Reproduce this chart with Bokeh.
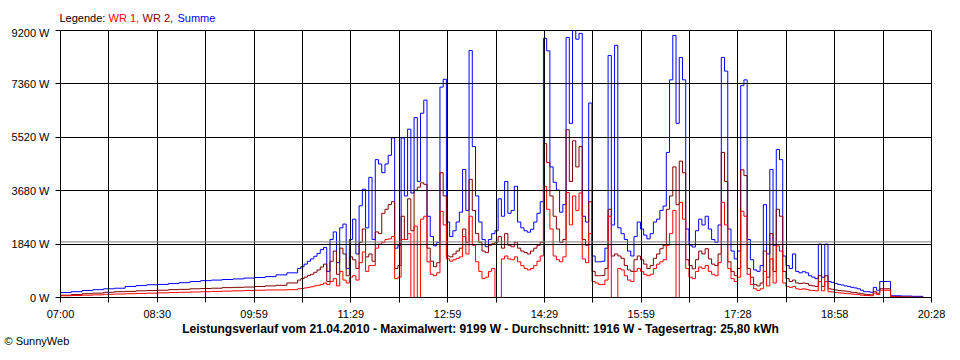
import numpy as np
from bokeh.plotting import figure
from bokeh.layouts import column
from bokeh.models import Range1d, FixedTicker, Span, ColumnDataSource
from bokeh.core.properties import value
from bokeh.embed import file_html
from bokeh.resources import INLINE

# ---------------- data (minutes after 07:00, watts) ----------------
DAY_SPAN_MIN = 808          # 07:00 .. 20:28
X_LABELS = ["07:00", "08:30", "09:59", "11:29", "12:59",
            "14:29", "15:59", "17:28", "18:58", "20:28"]
Y_TICKS = [0, 1840, 3680, 5520, 7360, 9200]
AVERAGE_W = 1916
SERIES_NAMES = ["WR 1,", "WR 2,", "Summe"]
SERIES_COLORS = ["#FF0000", "#800000", "#0000FF"]
FOOTER_TEXT = ("Leistungsverlauf vom 21.04.2010 - Maximalwert: 9199 W - "
               "Durchschnitt: 1916 W - Tagesertrag: 25,80 kWh")
COPYRIGHT = "\u00a9 SunnyWeb"

# morning samples every 10 min, 07:00 .. 10:30
morning_sum = [170, 200, 240, 270, 300, 320, 380, 410, 440, 450, 480,
               510, 550, 580, 600, 620, 640, 670, 690, 720, 780, 850]
morning_wr2 = [80, 100, 130, 150, 180, 200, 210, 230, 240, 250, 270,
               280, 300, 310, 320, 340, 350, 360, 380, 400, 420, 500]
morning_wr1 = [60, 70, 80, 90, 110, 120, 130, 140, 150, 160, 170,
               180, 190, 200, 210, 220, 230, 240, 250, 260, 260, 270]

# day samples every 3 min, 10:40 .. 19:40
day_sum = [
    1000, 1060, 1150, 1250, 1330, 1420, 1520, 1650, 1720, 900,
    2000, 2260, 1200, 2400, 2530, 1000, 2000, 2700, 1500, 3160,
    3730, 2400, 4140, 2000, 4750, 4600, 4300, 4600, 4900, 5500,
    1700, 1800, 5500, 3500, 5800, 3600, 6200, 4000, 6350, 6800,
    2800, 2100, 1780, 1900, 7250, 7520, 2600, 2100, 2300, 2600,
    2940, 4410, 3000, 8510, 5200, 3500, 2600, 2000, 1750, 2000,
    2200, 2300, 3400, 2800, 4000, 2900, 3000, 3830, 2600, 2400,
    2300, 2250, 2350, 2600, 2900, 3300, 8930, 8500, 4500, 3970,
    3700, 2940, 3200, 8960, 6000, 9200, 8900, 9100, 2800, 2600,
    6700, 1430, 1230, 1230, 1250, 1700, 8340, 2500, 8690, 2400,
    2200, 2000, 1600, 1430, 2100, 2600, 2360, 2150, 2020, 2200,
    2600, 2700, 3000, 3150, 5000, 7500, 9030, 6000, 8270, 7500,
    2360, 1800, 1740, 2300, 2700, 2500, 2800, 2360, 2000, 1900,
    2500, 8270, 7800, 2360, 1600, 1330, 1600, 7300, 7500, 2000,
    1300, 950, 900, 1100, 3200, 1500, 4410, 1800, 5100, 4750,
    1430, 1100, 1000, 1500, 900, 850, 890, 850, 750, 700,
    650, 1840, 700, 1840, 550, 520, 480, 450, 430, 400,
    380, 350, 330, 300, 250, 200, 200, 180, 350, 250,
    550]
day_wr2 = [
    600, 650, 700, 760, 800, 870, 950, 1050, 1150, 550,
    1250, 1600, 800, 1700, 1500, 750, 1400, 1300, 1000, 1900,
    2360, 1400, 1500, 1250, 2260, 2200, 2900, 3040, 3200, 3300,
    1000, 1100, 2800, 2000, 3400, 2300, 3700, 3800, 3950, 3900,
    1700, 1250, 1060, 1200, 4300, 3500, 1430, 1400, 1500, 1600,
    1700, 2360, 1900, 4070, 3000, 2200, 1900, 1600, 1550, 1800,
    1850, 1900, 2100, 1700, 2200, 1800, 1750, 1900, 1700, 1600,
    1550, 1500, 1600, 1700, 1800, 1900, 5300, 4650, 3500, 2800,
    2360, 1900, 2000, 5780, 4000, 5400, 4500, 5200, 2000, 1800,
    3300, 900, 750, 750, 760, 1000, 3040, 1430, 1500, 1430,
    1350, 1100, 950, 900, 1300, 1430, 1300, 1150, 1000, 1100,
    1350, 1500, 1680, 1800, 3040, 3500, 4500, 3200, 4700, 4300,
    1300, 1100, 990, 1300, 1600, 1500, 1680, 1330, 1150, 1100,
    1500, 5000, 4000, 1230, 900, 750, 1000, 4400, 4200, 1000,
    700, 450, 400, 500, 1600, 700, 2200, 900, 3040, 2800,
    900, 650, 550, 600, 500, 480, 500, 480, 420, 400,
    380, 750, 380, 750, 300, 280, 260, 240, 230, 220,
    200, 180, 170, 150, 130, 110, 100, 90, 200, 150,
    300]
day_wr1 = [
    300, 310, 330, 350, 370, 400, 420, 450, 500, 450,
    550, 650, 400, 900, 600, 500, 700, 750, 600, 1200,
    1570, 900, 1100, 1100, 1700, 1840, 1900, 2000, 2020, 2100,
    650, 700, 2000, 2000, 2200, 0, 2460, 0, 2700, 2800,
    1230, 800, 750, 850, 2970, 2500, 1330, 1250, 1300, 1350,
    1400, 2100, 1500, 2800, 1800, 1230, 900, 650, 700, 900,
    1000, 0, 0, 1330, 1430, 1330, 1300, 1400, 1230, 1100,
    1000, 950, 1000, 1100, 1250, 1430, 3830, 3040, 2360, 1430,
    1300, 1230, 1400, 3620, 2500, 3500, 3000, 3600, 1330, 1200,
    2200, 550, 500, 450, 450, 600, 2800, 0, 0, 1000,
    950, 750, 600, 550, 900, 1000, 900, 800, 750, 800,
    1000, 1150, 1230, 1300, 1800, 2200, 3000, 0, 3280, 2700,
    1000, 700, 650, 900, 1050, 1000, 1100, 900, 800, 750,
    1200, 3280, 2500, 1000, 650, 550, 700, 2970, 2800, 800,
    450, 300, 240, 300, 900, 400, 1330, 500, 1780, 1600,
    500, 380, 350, 380, 300, 280, 300, 280, 250, 240,
    230, 550, 230, 550, 200, 190, 170, 160, 150, 140,
    130, 120, 110, 100, 80, 70, 70, 60, 150, 100,
    250]

# evening samples every 10 min, 19:50 .. 20:20
evening_sum = [60, 50, 40, 0]
evening_wr2 = [30, 20, 10, 0]
evening_wr1 = [20, 10, 5, 0]

MORNING_START, MORNING_STEP = 0, 10
DAY_START, DAY_STEP = 220, 3
EVENING_START, EVENING_STEP = 770, 10

t = np.concatenate([
    MORNING_START + MORNING_STEP * np.arange(len(morning_sum)),
    DAY_START + DAY_STEP * np.arange(len(day_sum)),
    EVENING_START + EVENING_STEP * np.arange(len(evening_sum)),
])
summe = morning_sum + day_sum + evening_sum
wr2 = morning_wr2 + day_wr2 + evening_wr2
wr1 = morning_wr1 + day_wr1 + evening_wr1

FONT = "Liberation Sans"
W = 960
HEADER_H, FOOTER_H = 26, 38
MAIN_H = 360 - HEADER_H - FOOTER_H
FRAME_L, FRAME_R = 60, 931


def text_panel(height):
    f = figure(width=W, height=height, output_backend="svg", toolbar_location=None,
               y_range=Range1d(height, 0),
               x_axis_location=None, y_axis_location=None,
               min_border=0, min_border_left=0, min_border_right=0,
               min_border_top=0, min_border_bottom=0,
               background_fill_color="white", border_fill_color="white")
    if "frame_align" in f.properties():
        f.frame_align = False
        f.x_range = Range1d(0, W)
    else:
        f.x_range = Range1d(FRAME_L, FRAME_R)
    f.outline_line_color = None
    f.grid.visible = False
    return f


# ---------------- header (legend) ----------------
header = text_panel(HEADER_H)
leg = ColumnDataSource(dict(
    x=[59, 108, 142, 177], y=[17, 17, 17, 17],
    text=["Legende:"] + SERIES_NAMES,
    color=["black"] + SERIES_COLORS))
header.text(x="x", y="y", text="text", text_color="color", source=leg,
            text_font=value(FONT), text_font_size="11px",
            text_baseline="middle", text_align="left")

# ---------------- main chart ----------------
p = figure(width=W, height=MAIN_H, output_backend="svg", toolbar_location=None,
           x_range=Range1d(0, DAY_SPAN_MIN), y_range=Range1d(0, Y_TICKS[-1]),
           min_border_left=FRAME_L, min_border_right=W - FRAME_R,
           min_border_top=30 - HEADER_H,
           min_border_bottom=(HEADER_H + MAIN_H) - 299,
           background_fill_color="white", border_fill_color="white")

x_ticks = [DAY_SPAN_MIN / 18 * k for k in range(19)]
p.xaxis.ticker = FixedTicker(ticks=x_ticks)
p.xaxis.major_label_overrides = {
    tk: (X_LABELS[k // 2] if k % 2 == 0 else "") for k, tk in enumerate(x_ticks)}
p.yaxis.ticker = FixedTicker(ticks=Y_TICKS)
p.yaxis.major_label_overrides = {v: f"{v} W" for v in Y_TICKS}

for ax in (p.xaxis[0], p.yaxis[0]):
    ax.axis_line_color = "black"
    ax.major_tick_line_color = "black"
    ax.major_tick_out = 5
    ax.major_tick_in = 0
    ax.minor_tick_line_color = None
    ax.major_label_text_font = FONT
    ax.major_label_text_font_size = "11px"
    ax.major_label_text_color = "black"
p.xaxis.major_label_standoff = 5
p.yaxis.major_label_standoff = 6

p.xgrid.ticker = FixedTicker(ticks=x_ticks)
for g in (p.xgrid[0], p.ygrid[0]):
    g.grid_line_color = "black"
    g.grid_line_alpha = 1.0
    g.grid_line_width = 1
    g.level = "overlay"

p.outline_line_color = "black"
p.outline_line_width = 1

p.step(t, summe, mode="after", line_color=SERIES_COLORS[2], line_width=1)
p.step(t, wr2, mode="after", line_color=SERIES_COLORS[1], line_width=1)
p.step(t, wr1, mode="after", line_color=SERIES_COLORS[0], line_width=1)

p.add_layout(Span(location=AVERAGE_W, dimension="width",
                  line_color="#808080", line_width=1, level="overlay"))

# ---------------- footer ----------------
footer = text_panel(FOOTER_H)
foot_top = HEADER_H + MAIN_H
footer.text(x=[480], y=[328 - foot_top], text=[FOOTER_TEXT],
            text_font=value(FONT), text_font_size="12px", text_font_style="bold",
            text_color="black", text_align="center", text_baseline="middle")
footer.text(x=[4], y=[340 - foot_top], text=[COPYRIGHT],
            text_font=value(FONT), text_font_size="11px",
            text_color="black", text_align="left", text_baseline="middle")

layout = column(header, p, footer, spacing=0)
open("out.html", "w").write(file_html(layout, INLINE))
